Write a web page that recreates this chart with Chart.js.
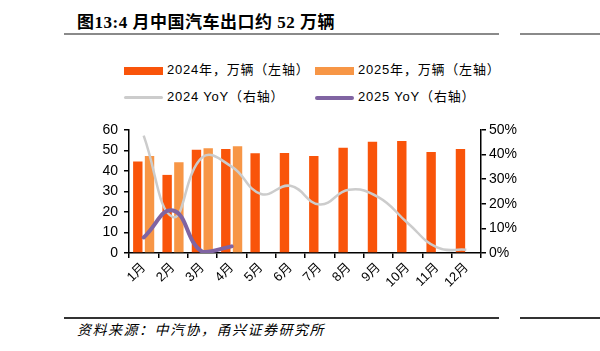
<!DOCTYPE html>
<html>
<head>
<meta charset="utf-8">
<script src="https://cdn.jsdelivr.net/npm/chart.js@4"></script>
<style>
	body { margin: 0; width: 600px; height: 351px; background: #fff; position: relative; overflow: hidden; font-family: "Liberation Sans", "Noto Sans CJK SC", sans-serif; }
	.title { position: absolute; left: 77px; top: 8px; font: bold 17px "Liberation Serif", "Noto Sans CJK SC", serif; letter-spacing: 0.5px; color: #000; white-space: nowrap; }
	.rule { position: absolute; height: 2px; background: #8a8a8a; }
	.source { position: absolute; left: 77px; top: 319px; font: italic 14px "Noto Sans CJK SC", sans-serif; letter-spacing: 1.5px; color: #000; white-space: nowrap; }
	.legend-item { position: absolute; font-size: 13px; letter-spacing: 0.8px; color: #000; white-space: nowrap; line-height: 16px; }
	.legend-item span { display: inline-block; vertical-align: middle; margin-right: 4px; }
	#chart-wrap { position: absolute; left: 0; top: 110px; width: 540px; height: 190px; }
</style>
</head>
<body>
<div class="title">图13:4 月中国汽车出口约 52 万辆</div>
<div class="rule" style="left:64px; width:435px; top:33px;"></div>
<div class="rule" style="left:520px; width:80px; top:33px;"></div>
<div id="legend"></div>
<div id="chart-wrap"><canvas id="chart-exports" width="540" height="190"></canvas></div>
<div class="rule" style="left:64px; width:435px; top:317px; background:#333;"></div>
<div class="rule" style="left:520px; width:80px; top:317px; background:#333;"></div>
<div class="source">资料来源：中汽协，甬兴证券研究所</div>

<script>
	// Data
	const MONTHS = ["1月", "2月", "3月", "4月", "5月", "6月", "7月", "8月", "9月", "10月", "11月", "12月"];
	const EXPORTS_2024 = [44.6, 38.1, 50.4, 50.7, 48.7, 48.8, 47.3, 51.4, 54.3, 54.6, 49.3, 50.7];
	const EXPORTS_2025 = [47.3, 44.3, 51.1, 52.1];
	const YOY_2024 = [47.7, 14.6, 38.9, 35.1, 24.0, 27.3, 19.7, 25.7, 22.7, 12.2, 2.3, 1.3];
	const YOY_2025 = [6.3, 17.3, 0.5, 2.7];
	const LEFT_TICKS = [0, 10, 20, 30, 40, 50, 60];
	const RIGHT_TICKS = [0, 10, 20, 30, 40, 50];

	const COLORS = {
		bar2024: "#F9540A",
		bar2025: "#F79646",
		yoy2024: "#CCCCCC",
		yoy2025: "#8064A2",
	};

	//---------------------------------------------------------
	// Legend (two rows, two columns)
	//---------------------------------------------------------
	const LEGEND = [
		{ text: "2024年，万辆（左轴）", color: COLORS.bar2024, kind: "box", x: 124, y: 62 },
		{ text: "2025年，万辆（左轴）", color: COLORS.bar2025, kind: "box", x: 315, y: 62 },
		{ text: "2024 YoY（右轴）", color: COLORS.yoy2024, kind: "line", x: 124, y: 89 },
		{ text: "2025  YoY（右轴）", color: COLORS.yoy2025, kind: "line", x: 315, y: 89 },
	];
	const legendEl = document.getElementById("legend");
	LEGEND.forEach((item) => {
		const div = document.createElement("div");
		div.className = "legend-item";
		div.style.left = item.x + "px";
		div.style.top = item.y + "px";
		const swatch = document.createElement("span");
		swatch.style.width = "39px";
		swatch.style.height = item.kind === "box" ? "8px" : (item.text.startsWith("2025") ? "4px" : "3px");
		swatch.style.background = item.color;
		swatch.style.borderRadius = item.kind === "line" ? "2px" : "0";
		div.appendChild(swatch);
		div.appendChild(document.createTextNode(item.text));
		legendEl.appendChild(div);
	});

	//---------------------------------------------------------
	// Chart
	//---------------------------------------------------------
	const TICK_FONT = { family: '"Liberation Sans", "Noto Sans CJK SC", sans-serif', size: 14 };

	const CHART_DATA = {
		labels: MONTHS,
		datasets: [
			{
				type: "line",
				label: "2025 YoY（右轴）",
				data: YOY_2025,
				yAxisID: "y1",
				borderColor: COLORS.yoy2025,
				borderWidth: 4,
				tension: 0.45,
				pointRadius: 0,
				borderCapStyle: "round",
				order: 0,
			},
			{
				type: "line",
				label: "2024 YoY（右轴）",
				data: YOY_2024,
				yAxisID: "y1",
				borderColor: COLORS.yoy2024,
				borderWidth: 2.5,
				tension: 0.45,
				pointRadius: 0,
				order: 1,
			},
			{
				label: "2024年，万辆（左轴）",
				data: EXPORTS_2024,
				yAxisID: "y",
				backgroundColor: COLORS.bar2024,
				categoryPercentage: 0.8,
				barPercentage: 0.8,
				order: 2,
			},
			{
				label: "2025年，万辆（左轴）",
				data: EXPORTS_2025,
				yAxisID: "y",
				backgroundColor: COLORS.bar2025,
				categoryPercentage: 0.8,
				barPercentage: 0.8,
				order: 3,
			},
		],
	};

	const CHART_CONFIG = {
		type: "bar",
		data: CHART_DATA,
		options: {
			responsive: false,
			animation: false,
			layout: { padding: { top: 20, left: 0, right: 0, bottom: 0 } },
			scales: {
				x: {
					border: { display: true, color: "#000", width: 1.5 },
					grid: { drawOnChartArea: false, drawTicks: true, tickLength: 5, color: "#000", lineWidth: 1.5 },
					ticks: { font: { ...TICK_FONT, size: 13 }, color: "#000", maxRotation: 45, minRotation: 45, padding: 2 },
					afterFit: (scale) => { scale.height = 47; },
				},
				y: {
					position: "left",
					min: 0,
					max: 60,
					afterBuildTicks: (scale) => { scale.ticks = LEFT_TICKS.map((v) => ({ value: v })); },
					border: { display: true, color: "#000", width: 1.5 },
					grid: { drawOnChartArea: false, drawTicks: true, tickLength: 5, color: "#000", lineWidth: 1.5 },
					ticks: { font: TICK_FONT, color: "#000", padding: 6 },
					afterFit: (scale) => { scale.width = 129; },
				},
				y1: {
					position: "right",
					min: 0,
					max: 50,
					afterBuildTicks: (scale) => { scale.ticks = RIGHT_TICKS.map((v) => ({ value: v })); },
					border: { display: true, color: "#000", width: 1.5 },
					grid: { drawOnChartArea: false, drawTicks: true, tickLength: 5, color: "#000", lineWidth: 1.5 },
					ticks: { font: TICK_FONT, color: "#000", padding: 3, callback: (v) => v + "%" },
					afterFit: (scale) => { scale.width = 59; },
				},
			},
			plugins: {
				legend: { display: false },
				tooltip: { enabled: false },
			},
		},
	};

	new Chart(document.getElementById("chart-exports"), CHART_CONFIG);
</script>
</body>
</html>
